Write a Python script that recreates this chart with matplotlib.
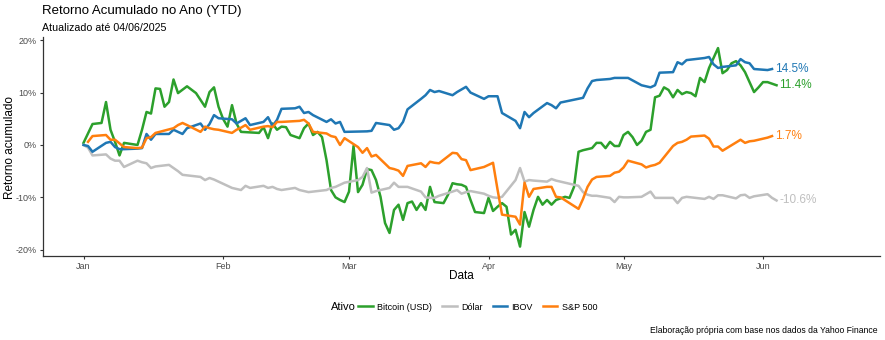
import numpy as np
import pandas as pd
import matplotlib
matplotlib.use('Agg')
import matplotlib.pyplot as plt
import matplotlib.dates as mdates
from matplotlib.ticker import FuncFormatter
from matplotlib.lines import Line2D

plt.rcParams['font.family'] = ['Liberation Sans', 'DejaVu Sans']
plt.rcParams['axes.unicode_minus'] = False

ano = '2025-'

# Bitcoin (USD) - retorno acumulado em %
btc_datas = ['01-01', '01-03', '01-05', '01-06', '01-07', '01-08', '01-09', '01-10', '01-13', '01-14',
             '01-15', '01-16', '01-17', '01-18', '01-19', '01-20', '01-21', '01-22', '01-24', '01-26',
             '01-27', '01-28', '01-29', '01-30', '01-31', '02-01', '02-02', '02-03', '02-04', '02-05',
             '02-07', '02-09', '02-10', '02-11', '02-12', '02-13', '02-14', '02-15', '02-16', '02-18',
             '02-19', '02-20', '02-21', '02-22', '02-23', '02-24', '02-25', '02-26', '02-27', '02-28',
             '03-01', '03-02', '03-03', '03-04', '03-05', '03-06', '03-07', '03-08', '03-09', '03-10',
             '03-11', '03-12', '03-13', '03-14', '03-15', '03-16', '03-17', '03-18', '03-19', '03-20',
             '03-21', '03-22', '03-23', '03-24', '03-25', '03-26', '03-27', '03-28', '03-29', '03-30',
             '03-31', '04-01', '04-02', '04-03', '04-04', '04-05', '04-06', '04-07', '04-08', '04-09',
             '04-10', '04-11', '04-12', '04-13', '04-14', '04-15', '04-16', '04-17', '04-18', '04-19',
             '04-20', '04-21', '04-22', '04-23', '04-24', '04-25', '04-26', '04-27', '04-28', '04-29',
             '04-30', '05-01', '05-02', '05-03', '05-04', '05-05', '05-06', '05-07', '05-08', '05-09',
             '05-10', '05-11', '05-12', '05-13', '05-14', '05-15', '05-16', '05-17', '05-18', '05-19',
             '05-20', '05-21', '05-22', '05-23', '05-24', '05-25', '05-26', '05-27', '05-28', '05-29',
             '05-30', '05-31', '06-01', '06-02', '06-03', '06-04']
btc_ret = [0.4, 4.0, 4.2, 8.2, 2.9, 0.6, -2.0, 0.4, 0.0, 2.9,
           6.3, 6.0, 10.8, 10.7, 7.3, 8.2, 12.5, 9.9, 11.2, 9.9,
           8.6, 7.3, 10.1, 11.0, 7.3, 5.0, 3.5, 7.6, 4.1, 2.5,
           2.4, 2.3, 3.4, 1.3, 4.1, 2.9, 3.5, 3.4, 1.9, 1.3,
           3.2, 4.1, 1.9, 2.5, 1.5, -2.9, -8.6, -10.0, -10.5, -10.9,
           -8.9, -0.2, -9.0, -7.6, -4.6, -4.8, -6.7, -9.9, -14.9, -16.8,
           -12.4, -11.4, -14.3, -11.1, -10.8, -12.4, -11.1, -12.4, -8.0, -10.9,
           -11.0, -11.1, -9.5, -7.3, -7.5, -7.6, -8.0, -10.5, -12.8, -12.9,
           -13.0, -10.1, -12.6, -11.8, -11.1, -11.8, -17.1, -16.2, -19.4, -12.8,
           -15.6, -12.4, -9.9, -11.4, -10.5, -11.4, -10.5, -10.2, -9.9, -10.1,
           -8.0, -1.3, -1.0, -0.8, -0.6, 0.4, 0.4, -0.6, 0.6, -0.2,
           -0.2, 1.9, 2.5, 1.5, 0.0, 0.8, 2.5, 2.9, 9.1, 9.4,
           11.0, 10.5, 9.1, 10.5, 9.7, 10.1, 9.9, 9.3, 12.8, 12.0,
           14.7, 16.6, 18.5, 13.7, 14.3, 15.6, 16.0, 15.2, 13.9, 12.0,
           10.1, 11.0, 12.0, 12.0, 11.7, 11.4]

# Dólar (BRL por USD)
dol_datas = ['01-01', '01-02', '01-03', '01-06', '01-07', '01-08', '01-09', '01-10', '01-13', '01-14',
             '01-15', '01-16', '01-17', '01-20', '01-21', '01-22', '01-23', '01-24', '01-27', '01-28',
             '01-29', '01-30', '01-31', '02-03', '02-04', '02-05', '02-06', '02-07', '02-10', '02-11',
             '02-12', '02-13', '02-14', '02-17', '02-18', '02-19', '02-20', '02-21', '02-24', '02-25',
             '02-26', '02-27', '02-28', '03-03', '03-04', '03-05', '03-06', '03-07', '03-10', '03-11',
             '03-12', '03-13', '03-14', '03-17', '03-18', '03-19', '03-20', '03-21', '03-24', '03-25',
             '03-26', '03-27', '03-28', '03-31', '04-01', '04-02', '04-03', '04-04', '04-07', '04-08',
             '04-09', '04-10', '04-11', '04-14', '04-15', '04-16', '04-17', '04-21', '04-22', '04-23',
             '04-24', '04-25', '04-28', '04-29', '04-30', '05-01', '05-02', '05-05', '05-06', '05-07',
             '05-08', '05-09', '05-12', '05-13', '05-14', '05-15', '05-16', '05-19', '05-20', '05-21',
             '05-22', '05-23', '05-26', '05-27', '05-28', '05-29', '05-30', '06-02', '06-03', '06-04']
dol_ret = [0.0, -0.5, -2.0, -1.8, -2.6, -3.0, -3.0, -4.2, -3.0, -3.3,
           -3.5, -4.4, -4.1, -3.8, -4.4, -5.0, -5.7, -5.8, -6.1, -6.7,
           -6.3, -6.6, -7.0, -8.2, -8.4, -8.6, -7.8, -8.2, -7.8, -8.2,
           -8.0, -8.4, -8.6, -8.2, -8.6, -8.8, -9.0, -8.9, -8.6, -8.2,
           -8.0, -7.6, -7.2, -6.7, -6.1, -4.4, -9.1, -8.8, -8.2, -7.2,
           -8.0, -8.0, -8.0, -8.9, -10.0, -10.1, -10.1, -9.7, -8.9, -8.6,
           -9.3, -9.0, -8.8, -9.3, -9.7, -10.0, -10.1, -9.9, -6.7, -4.4,
           -7.0, -6.7, -6.8, -7.0, -6.5, -6.8, -7.0, -7.8, -9.0, -9.5,
           -9.7, -9.7, -10.1, -10.9, -9.9, -10.0, -10.0, -9.9, -9.4, -8.9,
           -10.1, -10.1, -10.1, -11.1, -10.1, -9.9, -10.0, -10.3, -9.9, -10.3,
           -9.6, -9.6, -10.2, -9.6, -9.5, -10.1, -9.8, -9.4, -10.1, -10.6]

# IBOV
ibov_datas = ['01-01', '01-02', '01-03', '01-06', '01-07', '01-08', '01-09', '01-10', '01-13', '01-14',
              '01-15', '01-16', '01-17', '01-20', '01-21', '01-22', '01-23', '01-24', '01-27', '01-28',
              '01-29', '01-30', '01-31', '02-03', '02-04', '02-05', '02-06', '02-07', '02-10', '02-11',
              '02-12', '02-13', '02-14', '02-17', '02-18', '02-19', '02-20', '02-21', '02-24', '02-25',
              '02-26', '02-27', '02-28', '03-05', '03-06', '03-07', '03-10', '03-11', '03-12', '03-13',
              '03-14', '03-17', '03-18', '03-19', '03-20', '03-21', '03-24', '03-25', '03-26', '03-27',
              '03-28', '03-31', '04-01', '04-02', '04-03', '04-04', '04-07', '04-08', '04-09', '04-10',
              '04-11', '04-14', '04-15', '04-16', '04-17', '04-22', '04-23', '04-24', '04-25', '04-28',
              '04-29', '04-30', '05-02', '05-05', '05-06', '05-07', '05-08', '05-09', '05-12', '05-13',
              '05-14', '05-15', '05-16', '05-19', '05-20', '05-21', '05-22', '05-23', '05-26', '05-27',
              '05-28', '05-29', '05-30', '06-02', '06-03']
ibov_ret = [0.0, -0.2, -1.3, 0.4, 0.6, -0.4, -0.8, -0.8, -0.7, -0.6,
            2.1, 1.0, 2.1, 2.1, 2.9, 2.5, 2.1, 3.2, 4.1, 2.9,
            4.0, 5.7, 5.1, 4.9, 4.1, 4.6, 5.1, 3.8, 4.4, 5.3,
            3.6, 4.8, 6.9, 7.0, 7.3, 6.1, 6.3, 5.7, 4.4, 4.9,
            4.1, 4.4, 2.5, 2.6, 2.7, 4.2, 3.8, 2.9, 3.2, 4.4,
            6.8, 8.8, 9.5, 10.5, 10.1, 10.3, 9.5, 10.1, 10.6, 11.1,
            10.0, 8.8, 9.3, 9.3, 9.3, 6.1, 4.6, 3.2, 6.3, 5.3,
            6.1, 8.0, 7.6, 7.0, 8.1, 9.0, 10.8, 12.2, 12.4, 12.6,
            12.8, 12.8, 12.8, 11.4, 11.2, 11.0, 11.4, 13.8, 13.9, 15.8,
            15.4, 16.2, 16.3, 16.6, 16.8, 15.4, 14.7, 14.9, 15.2, 16.4,
            15.8, 15.6, 14.5, 14.3, 14.5]

# S&P 500
spx_datas = ['01-02', '01-03', '01-06', '01-07', '01-08', '01-10', '01-13', '01-14', '01-15', '01-16',
             '01-17', '01-21', '01-22', '01-23', '01-24', '01-27', '01-28', '01-29', '01-30', '01-31',
             '02-03', '02-04', '02-05', '02-06', '02-07', '02-10', '02-11', '02-12', '02-13', '02-14',
             '02-18', '02-19', '02-20', '02-21', '02-24', '02-25', '02-26', '02-27', '02-28', '03-03',
             '03-04', '03-05', '03-06', '03-07', '03-10', '03-11', '03-12', '03-13', '03-14', '03-17',
             '03-18', '03-19', '03-20', '03-21', '03-24', '03-25', '03-26', '03-27', '03-28', '03-31',
             '04-01', '04-02', '04-03', '04-04', '04-07', '04-08', '04-09', '04-10', '04-11', '04-14',
             '04-15', '04-16', '04-17', '04-21', '04-22', '04-23', '04-24', '04-25', '04-28', '04-29',
             '04-30', '05-01', '05-02', '05-05', '05-06', '05-07', '05-08', '05-09', '05-12', '05-13',
             '05-14', '05-15', '05-16', '05-19', '05-20', '05-21', '05-22', '05-23', '05-27', '05-28',
             '05-29', '05-30', '06-02', '06-03']
spx_ret = [0.6, 1.7, 1.9, 1.0, 1.0, -0.4, -0.6, -0.5, 1.3, 1.5,
           2.3, 3.2, 3.8, 4.2, 3.8, 2.5, 3.5, 3.2, 3.0, 2.9,
           2.3, 2.9, 3.3, 3.8, 2.9, 3.5, 3.6, 3.4, 4.4, 4.4,
           4.6, 4.8, 4.1, 2.5, 2.2, 1.7, 1.5, 0.0, 1.3, -0.4,
           -1.5, -0.6, -2.2, -1.9, -4.4, -4.6, -4.9, -5.9, -4.0, -3.5,
           -4.2, -3.2, -3.4, -3.5, -1.5, -1.6, -2.7, -2.9, -4.8, -4.2,
           -3.8, -3.4, -8.5, -13.3, -13.7, -15.2, -7.2, -9.9, -8.4, -8.0,
           -8.0, -9.9, -10.0, -12.2, -10.3, -8.0, -6.6, -6.1, -5.9, -5.3,
           -5.1, -4.3, -3.0, -3.7, -4.3, -4.0, -3.8, -3.4, -0.2, 0.4,
           0.6, 1.0, 1.6, 1.8, 1.2, -0.3, -0.3, -1.1, 1.0, 0.4,
           0.7, 0.8, 1.4, 1.7]

series = [
    ('Bitcoin (USD)', btc_datas, btc_ret, '#2ca02c'),
    ('Dólar', dol_datas, dol_ret, '#bfbfbf'),
    ('IBOV', ibov_datas, ibov_ret, '#1f77b4'),
    ('S&P 500', spx_datas, spx_ret, '#ff7f0e'),
]

fig = plt.figure(figsize=(8.85, 3.4), dpi=100)
ax = fig.add_axes([0.0486, 0.247, 0.9458, 0.644])

handles = []
for nome, datas, ret, cor in series:
    x = pd.to_datetime([ano + d for d in datas])
    ax.plot(x, ret, color=cor, lw=1.8, solid_joinstyle='round')
    # rotulo com o ultimo valor
    ax.annotate(f'{ret[-1]:.1f}%', xy=(x[-1], ret[-1]), xytext=(2, 0),
                textcoords='offset points', va='center', ha='left',
                color=cor, fontsize=8.5)
    handles.append(Line2D([0], [0], color=cor, lw=1.8, label=nome))

ax.set_xlim(pd.Timestamp('2024-12-23'), pd.Timestamp('2025-06-27'))
ax.set_ylim(-21.2, 20.6)
ax.set_yticks([-20, -10, 0, 10, 20])
ax.yaxis.set_major_formatter(FuncFormatter(lambda v, p: f'{v:.0f}%'))
ax.xaxis.set_major_locator(mdates.MonthLocator())
ax.xaxis.set_major_formatter(mdates.DateFormatter('%b'))

for s in ['top', 'right']:
    ax.spines[s].set_visible(False)
for s in ['left', 'bottom']:
    ax.spines[s].set_color('#333333')
    ax.spines[s].set_linewidth(0.9)
ax.tick_params(axis='both', labelsize=6.5, labelcolor='#4d4d4d', color='#333333',
               length=2.5, width=0.8, pad=2)

# titulos dos eixos
fig.text(0.5215, 0.188, 'Data', fontsize=8.5, ha='center', va='center')
fig.text(0.011, 0.565, 'Retorno acumulado', fontsize=8.5, rotation=90,
         ha='center', va='center')

fig.text(0.0475, 0.967, 'Retorno Acumulado no Ano (YTD)', fontsize=9.5, va='center', ha='left')
fig.text(0.0475, 0.918, 'Atualizado até 04/06/2025', fontsize=7.7, va='center', ha='left')

fig.text(0.402, 0.097, 'Ativo', fontsize=8, va='center', ha='right')
fig.legend(handles=handles, loc='center', bbox_to_anchor=(0.54, 0.097), ncol=4,
           frameon=False, fontsize=6.5, handlelength=1.6, handletextpad=0.5,
           columnspacing=1.1)

fig.text(0.992, 0.028, 'Elaboração própria com base nos dados da Yahoo Finance',
         fontsize=6.25, ha='right', va='center')

fig.savefig('out.png', dpi=100)
